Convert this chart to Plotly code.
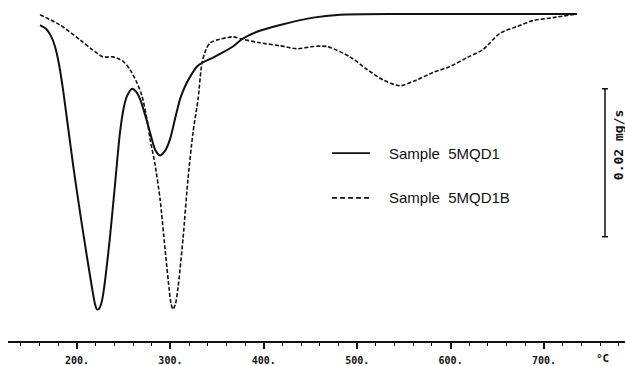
import plotly.graph_objects as go

# Temperature (°C) and DTG rate (mg/s)
T_5MQD1 = [160.4, 166.8, 172.2, 176.4, 180.7, 185.0, 190.4, 195.7, 201.1, 206.4, 211.8, 216.1,
           219.3, 221.4, 223.6, 225.7, 227.8, 231.0, 235.3, 240.7, 246.0, 250.3, 253.5, 258.9,
           263.2, 267.5, 272.8, 278.2, 283.5, 288.9, 294.2, 299.6, 304.9, 310.3, 315.6, 321.0,
           328.5, 333.8, 345.6, 353.1, 367.0, 376.7, 392.7, 417.4, 452.7, 481.6, 545.8, 640.0, 735.4]
R_5MQD1 = [-0.0015, -0.0020, -0.0030, -0.0044, -0.0068, -0.0102, -0.0153, -0.0203, -0.0250, -0.0294,
           -0.0337, -0.0370, -0.0392, -0.0399, -0.0398, -0.0392, -0.0380, -0.0350, -0.0301, -0.0230,
           -0.0160, -0.0125, -0.0111, -0.0101, -0.0105, -0.0115, -0.0136, -0.0160, -0.0183, -0.0191,
           -0.0185, -0.0169, -0.0142, -0.0115, -0.0098, -0.0085, -0.0071, -0.0066, -0.0059, -0.0054,
           -0.0044, -0.0034, -0.0024, -0.0015, -0.0005, -0.0001, 0.0, 0.0, 0.0]

T_5MQD1B = [160.4, 181.8, 203.2, 216.1, 227.8, 238.5, 249.3, 256.7, 264.2, 269.6, 274.9, 278.2,
            283.5, 288.9, 294.2, 298.5, 300.6, 302.8, 305.5, 308.1, 313.5, 318.8, 324.2, 329.6,
            333.8, 338.1, 342.4, 353.1, 367.0, 376.7, 395.9, 417.4, 435.6, 452.7, 467.7, 492.3,
            510.5, 527.6, 545.8, 564.0, 581.2, 599.4, 617.6, 634.7, 652.9, 671.1, 688.2, 709.6, 735.4]
R_5MQD1B = [-0.0001, -0.0015, -0.0035, -0.0048, -0.0058, -0.0058, -0.0064, -0.0075, -0.0093, -0.0111,
            -0.0142, -0.0169, -0.0203, -0.0250, -0.0317, -0.0370, -0.0391, -0.0399, -0.0391, -0.0370,
            -0.0303, -0.0223, -0.0160, -0.0115, -0.0066, -0.0048, -0.0039, -0.0034, -0.0031, -0.0034,
            -0.0039, -0.0043, -0.0047, -0.0044, -0.0044, -0.0058, -0.0075, -0.0089, -0.0097, -0.0089,
            -0.0079, -0.0071, -0.0059, -0.0048, -0.0026, -0.0017, -0.0009, -0.0005, 0.0]

TICK_VALS = [200, 300, 400, 500, 600, 700]
TICK_TEXT = ["200.", "300.", "400.", "500.", "600.", "700."]
SERIES_NAMES = ["Sample\u00a0\u00a05MQD1", "Sample\u00a0\u00a05MQD1B"]
SCALE_T = 765.3
SCALE_CENTER = -0.0201
SCALE_HALF = 0.010
SCALE_LABEL = "0.02 mg/s"

fig = go.Figure()
fig.add_trace(go.Scatter(x=T_5MQD1, y=R_5MQD1, mode="lines",
                         line=dict(color="#111", width=2, shape="spline", smoothing=0.7),
                         showlegend=False))
fig.add_trace(go.Scatter(x=T_5MQD1B, y=R_5MQD1B, mode="lines",
                         line=dict(color="#111", width=1.6, shape="spline", smoothing=0.7,
                                   dash="4px,2px"),
                         showlegend=False))
# scale bar
fig.add_trace(go.Scatter(x=[SCALE_T], y=[SCALE_CENTER], mode="markers",
                         marker=dict(size=0.1, color="rgba(0,0,0,0)"),
                         error_y=dict(type="constant", value=SCALE_HALF, color="#111",
                                      thickness=1.5, width=3),
                         showlegend=False, hoverinfo="skip"))

W, H = 625, 366
ML, MB = 8, 23
PW, PH = W - ML, H - MB

def px(x):
    return (x - ML) / PW

def py(y):
    return (PH - y) / PH

shapes = [
    dict(type="line", xref="paper", yref="paper", x0=px(332), x1=px(370), y0=py(154), y1=py(154),
         line=dict(color="#111", width=1.6)),
    dict(type="line", xref="paper", yref="paper", x0=px(332), x1=px(370), y0=py(199), y1=py(199),
         line=dict(color="#111", width=1.6, dash="5px,3px")),
]
annotations = [
    dict(xref="paper", yref="paper", x=px(387), y=py(154), text=SERIES_NAMES[0], showarrow=False,
         xanchor="left", yanchor="middle", font=dict(family="Liberation Sans, Arial", size=15, color="#111")),
    dict(xref="paper", yref="paper", x=px(387), y=py(199), text=SERIES_NAMES[1], showarrow=False,
         xanchor="left", yanchor="middle", font=dict(family="Liberation Sans, Arial", size=15, color="#111")),
    dict(xref="paper", yref="paper", x=px(602), y=py(361), text="°C", showarrow=False,
         xanchor="center", yanchor="middle",
         font=dict(family="DejaVu Sans Mono", size=11, color="#111", weight="bold")),
    dict(xref="paper", yref="paper", x=px(618), y=py(146), text=SCALE_LABEL, showarrow=False,
         textangle=-90, xanchor="center", yanchor="middle",
         font=dict(family="DejaVu Sans Mono", size=13, color="#111", weight="bold")),
]

fig.update_layout(
    width=W, height=H,
    margin=dict(l=ML, r=0, t=0, b=MB, pad=0),
    paper_bgcolor="white", plot_bgcolor="white",
    showlegend=False,
    shapes=shapes, annotations=annotations,
    xaxis=dict(range=[126.1, 786.7], showgrid=False, zeroline=False,
               showline=True, linecolor="#111", linewidth=2,
               ticks="outside", ticklen=6, tickwidth=1.5, tickcolor="#111",
               tickvals=TICK_VALS, ticktext=TICK_TEXT, ticklabelstandoff=3,
               tickfont=dict(family="DejaVu Sans Mono", size=10, color="#111", weight="bold"),
               minor=dict(ticks="outside", ticklen=3, tickwidth=1, tickcolor="#111",
                          tick0=0, dtick=20)),
    yaxis=dict(range=[-0.04416, 0.00188], visible=False, showgrid=False, zeroline=False),
)

fig.write_html("out.html")
